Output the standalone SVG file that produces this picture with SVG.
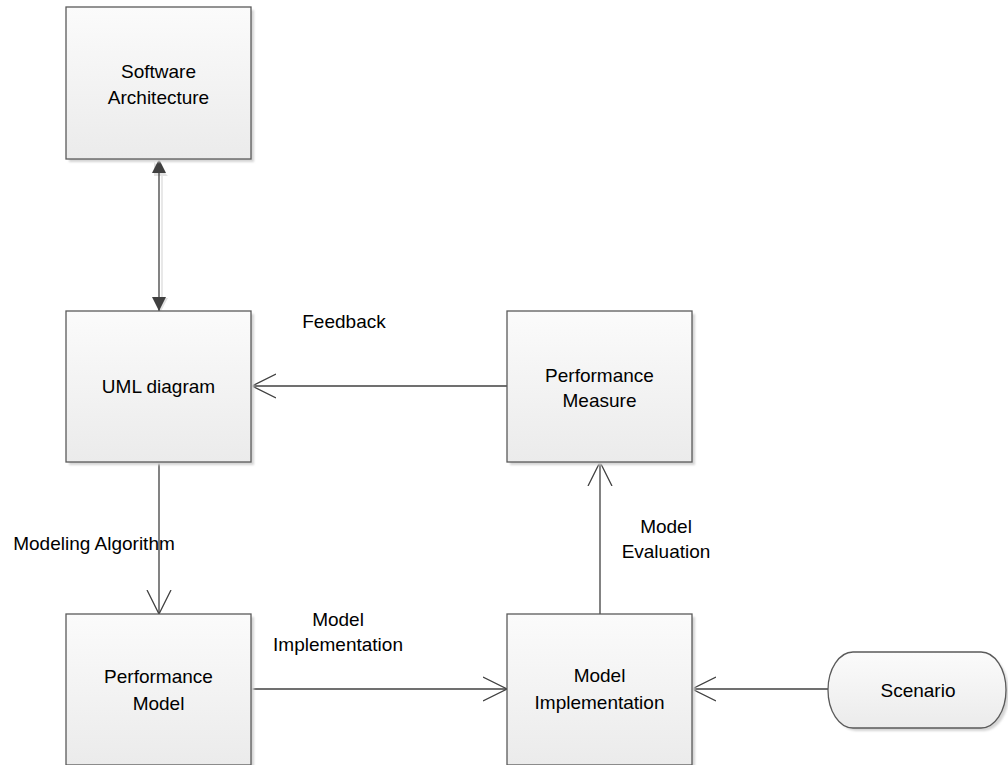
<svg xmlns="http://www.w3.org/2000/svg" width="1008" height="765" viewBox="0 0 1008 765">
  <defs>
    <linearGradient id="boxFill" x1="0" y1="0" x2="0" y2="1">
      <stop offset="0" stop-color="#fbfbfb"/>
      <stop offset="1" stop-color="#ebebeb"/>
    </linearGradient>
    <filter id="shadow" x="-10%" y="-10%" width="130%" height="130%">
      <feGaussianBlur stdDeviation="1"/>
    </filter>
    <marker id="solid" viewBox="0 0 14 14" refX="14" refY="7" markerWidth="14" markerHeight="14" markerUnits="userSpaceOnUse" orient="auto-start-reverse">
      <path d="M0,0 L14,7 L0,14 Z" fill="#404040"/>
    </marker>
    <marker id="open" viewBox="0 0 24 26" refX="24" refY="13" markerWidth="24" markerHeight="26" markerUnits="userSpaceOnUse" orient="auto">
      <path d="M0,1 L24,13 L0,25" fill="none" stroke="#404040" stroke-width="1.3"/>
    </marker>
  </defs>
  <style>
    .box { fill: url(#boxFill); stroke: #5a5a5a; stroke-width: 1.3; }
    .shade { fill: #d4d4d4; filter: url(#shadow); }
    .label { font-family: "Liberation Sans", Arial, sans-serif; font-size: 19px; fill: #000; text-anchor: middle; }
    .edge { fill: none; stroke: #404040; stroke-width: 1.3; }
    .edgeShade { fill: none; stroke: #dcdcdc; stroke-width: 1.3; }
  </style>

  <rect width="1008" height="765" fill="#ffffff"/>

  <!-- connectors -->
  <g id="connectors">
    <!-- soft shadow under the bidirectional link -->
    <line class="edgeShade" x1="162" y1="170" x2="162" y2="300"/>
    <path d="M154,162 L168,176 L154,176 Z" fill="#e2e2e2"/>
    <path d="M154,298 L168,298 L160,313 Z" fill="#e2e2e2"/>
    <line class="edge" x1="159" y1="159" x2="159" y2="311" marker-start="url(#solid)" marker-end="url(#solid)"/>
    <line class="edge" x1="507" y1="386" x2="252" y2="386" marker-end="url(#open)"/>
    <line class="edge" x1="159" y1="462" x2="159" y2="614" marker-end="url(#open)"/>
    <line class="edge" x1="600" y1="614" x2="600" y2="462" marker-end="url(#open)"/>
    <line class="edge" x1="252" y1="689" x2="507" y2="689" marker-end="url(#open)"/>
    <line class="edge" x1="828" y1="689" x2="692" y2="689" marker-end="url(#open)"/>
    <text class="label" x="344" y="328">Feedback</text>
    <text class="label" x="94" y="550">Modeling Algorithm</text>
    <text class="label" x="338" y="626">Model</text>
    <text class="label" x="338" y="651">Implementation</text>
    <text class="label" x="666" y="533">Model</text>
    <text class="label" x="666" y="558">Evaluation</text>
  </g>

  <g id="software-architecture">
    <rect class="shade" x="69" y="10" width="185" height="152"/>
    <rect class="box" x="66" y="7" width="185" height="152"/>
    <text class="label" x="158.5" y="78">Software</text>
    <text class="label" x="158.5" y="104">Architecture</text>
  </g>

  <g id="uml-diagram">
    <rect class="shade" x="69" y="314" width="185" height="151"/>
    <rect class="box" x="66" y="311" width="185" height="151"/>
    <text class="label" x="158.5" y="393">UML diagram</text>
  </g>

  <g id="performance-measure">
    <rect class="shade" x="510" y="314" width="185" height="151"/>
    <rect class="box" x="507" y="311" width="185" height="151"/>
    <text class="label" x="599.5" y="382">Performance</text>
    <text class="label" x="599.5" y="407">Measure</text>
  </g>

  <g id="performance-model">
    <rect class="shade" x="69" y="617" width="185" height="151"/>
    <rect class="box" x="66" y="614" width="185" height="151"/>
    <text class="label" x="158.5" y="683">Performance</text>
    <text class="label" x="158.5" y="710">Model</text>
  </g>

  <g id="model-implementation">
    <rect class="shade" x="510" y="617" width="185" height="151"/>
    <rect class="box" x="507" y="614" width="185" height="151"/>
    <text class="label" x="599.5" y="682">Model</text>
    <text class="label" x="599.5" y="709">Implementation</text>
  </g>

  <g id="scenario">
    <rect class="shade" x="831" y="655" width="178" height="76" rx="25" ry="38"/>
    <rect class="box" x="828" y="652" width="178" height="76" rx="25" ry="38"/>
    <text class="label" x="918" y="697">Scenario</text>
  </g>
</svg>
